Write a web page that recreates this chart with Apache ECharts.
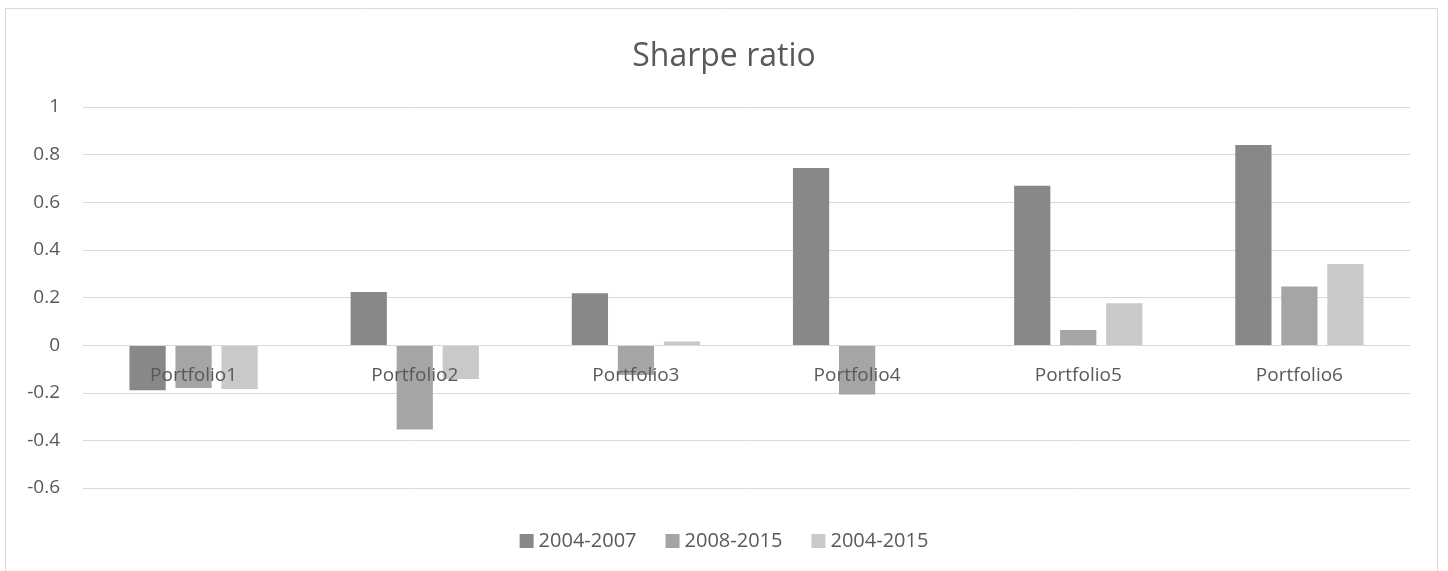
<!DOCTYPE html>
<html>
<head>
<meta charset="utf-8">
<title>Sharpe ratio</title>
<script src="https://cdn.jsdelivr.net/npm/echarts@6/dist/echarts.min.js"></script>
<style>
html, body { margin: 0; padding: 0; background: #fff; }
#main { width: 1448px; height: 571px; }
</style>
</head>
<body>
<div id="main"></div>
<script>
var categories = ['Portfolio1', 'Portfolio2', 'Portfolio3', 'Portfolio4', 'Portfolio5', 'Portfolio6'];
var seriesNames = ['2004-2007', '2008-2015', '2004-2015'];
var s2004_2007 = [-0.19, 0.223, 0.218, 0.744, 0.669, 0.840];
var s2008_2015 = [-0.18, -0.354, -0.125, -0.207, 0.063, 0.246];
var s2004_2015 = [-0.184, -0.142, 0.015, 0, 0.176, 0.341];
var colors = ['#888888', '#a5a5a5', '#c9c9c9'];
var yMin = -0.6, yMax = 1;

var font = '"Open Sans", "Liberation Sans", sans-serif';
var chart = echarts.init(document.getElementById('main'));

// grid box
var gTop = 107, gBottom = 83, gHeight = 571 - gTop - gBottom;
// category labels sit under the zero line, like Excel does
var zeroOffset = -gHeight * (0 - yMin) / (yMax - yMin);

function bar(name, data, color) {
    return {
        name: name,
        type: 'bar',
        data: data,
        itemStyle: { color: color },
        barGap: '27%',
        barCategoryGap: '42%'
    };
}

var option = {
    animation: false,
    textStyle: { fontFamily: font },
    title: {
        text: 'Sharpe ratio',
        left: 'center',
        top: 36,
        textStyle: { fontSize: 32, fontWeight: 'normal', color: '#595959', fontFamily: font }
    },
    graphic: [{
        type: 'rect',
        shape: { x: 5.5, y: 8.5, width: 1432, height: 570 },
        style: { fill: null, stroke: '#d9d9d9', lineWidth: 1 },
        silent: true
    }],
    legend: {
        data: seriesNames,
        top: 526,
        left: 'center',
        itemWidth: 14,
        itemHeight: 14,
        itemGap: 29,
        icon: 'rect',
        textStyle: { fontSize: 20, color: '#595959', fontFamily: font }
    },
    grid: { left: 83, right: 38, top: gTop, bottom: gBottom },
    xAxis: {
        type: 'category',
        data: categories,
        position: 'bottom',
        offset: zeroOffset,
        z: 10,
        axisLine: { show: true, onZero: false, lineStyle: { color: '#d9d9d9' } },
        axisTick: { show: false },
        axisLabel: { fontSize: 19, color: '#595959', margin: 21, fontFamily: font }
    },
    yAxis: {
        type: 'value',
        min: yMin,
        max: yMax,
        interval: 0.2,
        axisLine: { show: false },
        axisTick: { show: false },
        splitLine: { lineStyle: { color: '#d9d9d9', width: 1 } },
        axisLabel: { fontSize: 19, color: '#595959', margin: 23, fontFamily: font }
    },
    series: [
        bar(seriesNames[0], s2004_2007, colors[0]),
        bar(seriesNames[1], s2008_2015, colors[1]),
        bar(seriesNames[2], s2004_2015, colors[2])
    ]
};
chart.setOption(option);
</script>
</body>
</html>
